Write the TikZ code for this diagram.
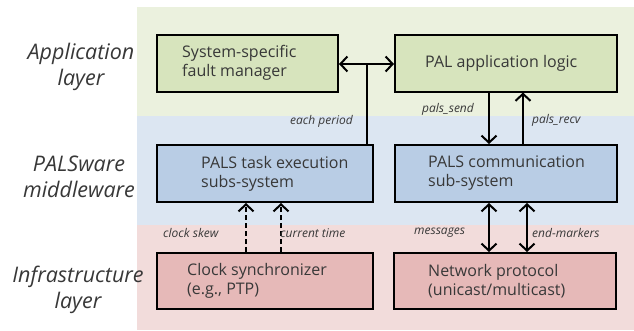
\documentclass[tikz,border=0pt]{standalone}
\usepackage{fontspec}
\setmainfont{Open Sans}
\usetikzlibrary{arrows.meta,calc}
\definecolor{bandG}{RGB}{235,241,222}
\definecolor{bandB}{RGB}{220,230,242}
\definecolor{bandR}{RGB}{242,220,219}
\definecolor{boxG}{RGB}{215,228,189}
\definecolor{boxB}{RGB}{185,205,229}
\definecolor{boxR}{RGB}{230,185,184}
\definecolor{ink}{RGB}{56,56,56}
\tikzset{
  blk/.style={draw=black, line width=2pt, minimum height=57pt, inner sep=0pt},
  txt/.style={text=ink, font=\fontsize{16}{19}\selectfont, align=left, inner sep=0pt, anchor=west},
  layer/.style={text=ink, font=\fontsize{21.5}{26}\selectfont\itshape, align=center},
  tag/.style={text=ink, font=\fontsize{12}{14}\selectfont\itshape, inner sep=0pt},
  link/.style={line width=2pt, -{Straight Barb[length=7pt,width=15pt,line width=2pt]}},
  dlink/.style={line width=2pt, {Straight Barb[length=7pt,width=15pt,line width=2pt]}-{Straight Barb[length=7pt,width=15pt,line width=2pt]}},
  slink/.style={line width=2pt, dash pattern=on 5pt off 3pt, -{Straight Barb[length=7pt,width=15pt,line width=2pt]}}
}
\begin{document}
\begin{tikzpicture}[x=1pt,y=-1pt]
\useasboundingbox (0,0) rectangle (634,330);
% layer bands
\fill[bandG] (137,7) rectangle (634,116);
\fill[bandB] (137,116) rectangle (634,225);
\fill[bandR] (137,225) rectangle (634,330);
% layer names
\node[layer] (lapp) at (81,67) {Application\\layer};
\node[layer] (lmid) at (79,177) {PALSware\\middleware};
\node[layer] (linf) at (78,290) {Infrastructure\\layer};
% blocks
\node[blk, fill=boxG, minimum width=181pt] (fault) at (247.5,63) {};
\node[blk, fill=boxG, minimum width=222pt] (app) at (506,63) {};
\node[blk, fill=boxB, minimum width=216pt] (task) at (265,173.5) {};
\node[blk, fill=boxB, minimum width=222pt] (comm) at (506,173.5) {};
\node[blk, fill=boxR, minimum width=216pt, minimum height=56pt] (clock) at (265,281) {};
\node[blk, fill=boxR, minimum width=222pt, minimum height=56pt] (net) at (505,281) {};
% block texts
\node[txt] (faultT) at ($(fault.west)+(26,0)$) {System-specific\\fault manager};
\node[txt] (appT) at ($(app.west)+(31,0)$) {PAL application logic};
\node[txt] (taskT) at ($(task.west)+(45,0)$) {PALS task execution\\subs-system};
\node[txt] (commT) at ($(comm.west)+(34,0)$) {PALS communication\\sub-system};
\node[txt] (clockT) at ($(clock.west)+(31,0)$) {Clock synchronizer\\(e.g., PTP)};
\node[txt] (netT) at ($(net.west)+(35,0)$) {Network protocol\\(unicast/multicast)};
% connectors
\draw[dlink] (fault.east |- 0,64) -- (app.west |- 0,64);
\coordinate (j) at (367,64);
\draw[line width=2pt] (j) -- (task.north -| j);
\draw[link] ($(app.south)+(-17,0)$) -- ($(comm.north)+(-17,0)$);
\draw[link] ($(comm.north)+(17,0)$) -- ($(app.south)+(17,0)$);
\draw[slink] ($(clock.north)+(-19,0)$) -- ($(task.south)+(-19,0)$);
\draw[slink] ($(clock.north)+(16,0)$) -- ($(task.south)+(16,0)$);
\draw[dlink] ($(comm.south)+(-17,0)$) -- ($(net.north)+(-16,0)$);
\draw[dlink] ($(comm.south)+(21,0)$) -- ($(net.north)+(22,0)$);
% connector labels
\node[tag, anchor=east] (tper) at (353,121) {each period};
\node[tag, anchor=west] (tsend) at (422,109) {pals\_send};
\node[tag, anchor=west] (trecv) at (532,120) {pals\_recv};
\node[tag, anchor=west] (tskew) at (163,233) {clock\ skew};
\node[tag, anchor=west] (tcur) at (280,233) {current time};
\node[tag, anchor=west] (tmsg) at (414,233) {messages};
\node[tag, anchor=west] (tend) at (532,233) {end-markers};
\end{tikzpicture}
\end{document}
